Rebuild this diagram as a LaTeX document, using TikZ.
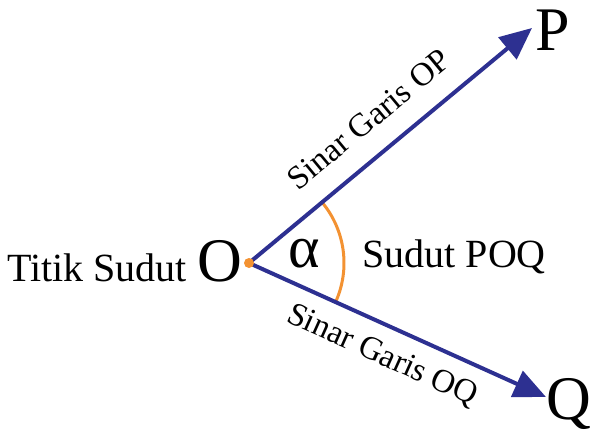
\documentclass[tikz,border=0pt]{standalone}
\usepackage{fontspec}
\setmainfont{Liberation Serif}
\usetikzlibrary{arrows.meta,calc,positioning}
\definecolor{rayblue}{RGB}{45,48,145}
\definecolor{arcorange}{RGB}{243,146,50}
\tikzset{
    ray/.style={draw=rayblue, line width=2pt, -{Triangle[length=16pt,width=14pt]}},
    vertex/.style={circle, fill=arcorange, minimum size=5pt, inner sep=0},
    big/.style={inner sep=0, font=\fontsize{31}{34}\selectfont},
    lbl/.style={inner sep=0, font=\fontsize{20}{24}\selectfont},
    small/.style={inner sep=0, font=\fontsize{16.5}{20}\selectfont}
}

\begin{document}
\begin{tikzpicture}[x=0.5pt,y=0.5pt]
    \useasboundingbox (0,0) rectangle (600,435);
    \coordinate (O) at (249,172);
    \coordinate (P) at (532,407);
    \coordinate (Q) at (546,38);
    \draw[arcorange, line width=1.5pt] ($(O)+(-24.3:47.5pt)$) arc[start angle=-24.3, end angle=39.7, radius=47.5pt];
    \draw[ray] (O) -- (P);
    \draw[ray] (O) -- (Q);
    \node[vertex] (dot) at (O) {};
    \node[big, anchor=base] (nO) at (220,154) {O};
    \node[big, anchor=base] (nP) at (553,385) {P};
    \node[big, anchor=base] (nQ) at (569,16) {Q};
    \node[lbl, base left=5pt of nO] (titik) {Titik Sudut};
    \node[inner sep=0, font=\fontsize{30}{34}\selectfont] (alpha) at (304,181) {α};
    \node[lbl, anchor=base west] (poq) at (362,168) {Sudut POQ};
    \node[small, rotate=39.7] (sOP) at ($(O)!0.5!(P)+(129.7:17pt)$) {Sinar Garis OP};
    \node[small, rotate=-24.3] (sOQ) at ($(O)!0.49!(Q)+(-114.3:15pt)$) {Sinar Garis OQ};
\end{tikzpicture}
\end{document}
